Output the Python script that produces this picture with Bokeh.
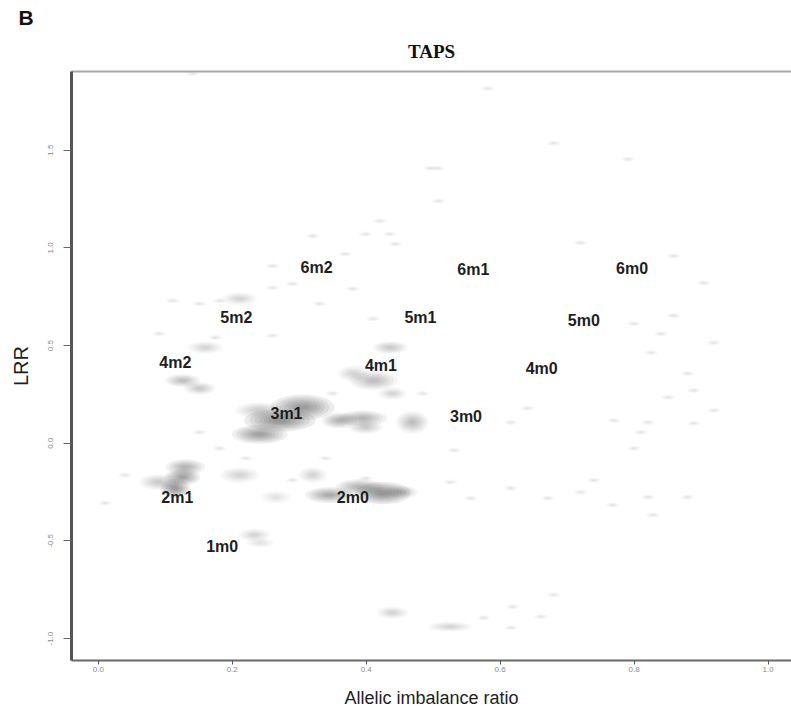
import numpy as np
from bokeh.plotting import figure
from bokeh.models import FixedTicker, LinearAxis, Range1d, Title
from bokeh.core.properties import value
from bokeh.embed import file_html
from bokeh.resources import INLINE

# ---- data ----
labels = ["6m2", "6m1", "6m0", "5m2", "5m1", "5m0", "4m2", "4m1", "4m0",
          "3m1", "3m0", "2m1", "2m0", "1m0"]
label_x = [0.326, 0.560, 0.797, 0.206, 0.481, 0.725, 0.115, 0.422, 0.662,
           0.281, 0.549, 0.118, 0.380, 0.185]
label_y = [0.898, 0.888, 0.893, 0.643, 0.643, 0.628, 0.413, 0.398, 0.383,
           0.153, 0.138, -0.276, -0.276, -0.531]

# density clusters: centre (ratio, LRR), spread (ratio, LRR), density
blob_x = [0.305, 0.271, 0.241, 0.241, 0.130, 0.126, 0.115, 0.091, 0.425, 0.345,
          0.390, 0.454, 0.436, 0.411, 0.381, 0.360, 0.395, 0.399, 0.469, 0.439,
          0.126, 0.151, 0.211, 0.160, 0.233, 0.242, 0.439, 0.525, 0.211, 0.320, 0.265]
blob_y = [0.184, 0.117, 0.046, 0.168, -0.122, -0.173, -0.230, -0.199, -0.255, -0.265,
          -0.224, -0.250, 0.490, 0.321, 0.357, 0.117, 0.128, 0.082, 0.107, 0.255,
          0.321, 0.281, 0.740, 0.490, -0.469, -0.510, -0.867, -0.939, -0.163, -0.163, -0.276]
blob_sx = [0.060, 0.067, 0.052, 0.045, 0.037, 0.033, 0.027, 0.037, 0.052, 0.045,
           0.045, 0.030, 0.033, 0.045, 0.030, 0.033, 0.045, 0.033, 0.030, 0.027,
           0.033, 0.030, 0.033, 0.033, 0.030, 0.027, 0.030, 0.042, 0.037, 0.027, 0.030]
blob_sy = [0.082, 0.071, 0.061, 0.051, 0.051, 0.051, 0.061, 0.051, 0.071, 0.051,
           0.051, 0.041, 0.041, 0.061, 0.051, 0.051, 0.051, 0.041, 0.071, 0.041,
           0.041, 0.041, 0.041, 0.041, 0.041, 0.031, 0.041, 0.031, 0.051, 0.051, 0.041]
blob_d = [0.45, 0.50, 0.40, 0.20, 0.30, 0.40, 0.45, 0.20, 0.50, 0.35,
          0.30, 0.20, 0.20, 0.25, 0.15, 0.30, 0.30, 0.20, 0.25, 0.15,
          0.25, 0.20, 0.15, 0.15, 0.15, 0.12, 0.15, 0.15, 0.15, 0.15, 0.12]

# sparse low-density points
speck_x = [0.141, 0.495, 0.420, 0.435, 0.399, 0.320, 0.369, 0.444, 0.260, 0.260,
           0.290, 0.330, 0.380, 0.410, 0.111, 0.151, 0.181, 0.091, 0.175, 0.260,
           0.581, 0.680, 0.791, 0.507, 0.720, 0.859, 0.904, 0.859, 0.800, 0.840,
           0.508, 0.880, 0.889, 0.851, 0.919, 0.821, 0.810, 0.800, 0.641, 0.616,
           0.531, 0.526, 0.556, 0.616, 0.671, 0.720, 0.740, 0.768, 0.821, 0.880,
           0.828, 0.680, 0.619, 0.661, 0.575, 0.616, 0.040, 0.010, 0.181, 0.151,
           0.220, 0.290, 0.399, 0.339, 0.350, 0.484, 0.770, 0.889, 0.919, 0.825]
speck_y = [1.893, 1.408, 1.138, 1.071, 1.071, 1.061, 0.969, 1.020, 0.908, 0.796,
           0.816, 0.714, 0.791, 0.638, 0.730, 0.714, 0.730, 0.561, 0.541, 0.551,
           1.816, 1.536, 1.454, 1.408, 1.026, 0.959, 0.821, 0.653, 0.612, 0.561,
           1.240, 0.357, 0.270, 0.235, 0.168, 0.107, 0.056, -0.026, 0.179, 0.107,
           -0.036, -0.199, -0.281, -0.230, -0.281, -0.250, -0.189, -0.316, -0.276, -0.276,
           -0.367, -0.776, -0.837, -0.888, -0.893, -0.944, -0.163, -0.306, -0.026, 0.056,
           -0.077, -0.189, -0.179, -0.077, 0.255, 0.255, 0.117, 0.102, 0.515, 0.464]

x_ticks = [0.0, 0.2, 0.4, 0.6, 0.8, 1.0]
x_tick_labels = ["0.0", "0.2", "0.4", "0.6", "0.8", "1.0"]
y_ticks = [-1.0, -0.5, 0.0, 0.5, 1.0, 1.5]
y_tick_labels = ["-1.0", "-0.5", "0.0", "0.5", "1.0", "1.5"]

# ---- figure ----
p = figure(width=791, height=717, output_backend="svg", toolbar_location=None,
           x_range=Range1d(-0.04, 1.035), y_range=Range1d(-1.112, 1.903),
           min_border_left=71, min_border_right=0, min_border_top=71,
           min_border_bottom=57)
p.outline_line_color = None
p.grid.visible = False
p.background_fill_color = "white"

bx = np.array(blob_x); by = np.array(blob_y)
sx = np.array(blob_sx); sy = np.array(blob_sy); d = np.array(blob_d)
for scale in [1.6, 1.35, 1.12, 0.92, 0.72, 0.52, 0.32]:
    p.ellipse(x=bx, y=by, width=sx * scale, height=sy * scale,
              fill_color="#404040", fill_alpha=d * 0.21, line_color=None)

spx = np.array(speck_x); spy = np.array(speck_y)
for w, h, a in [(0.02, 0.026, 0.04), (0.013, 0.017, 0.05), (0.007, 0.01, 0.05)]:
    p.ellipse(x=spx, y=spy, width=w, height=h,
              fill_color="#555555", fill_alpha=a, line_color=None)

p.text(x=label_x, y=label_y, text=labels, text_align="center",
       text_baseline="middle", text_font=value("Liberation Sans"),
       text_font_style="bold", text_font_size="16px", text_color="#1e1e1e")

# axes
p.xaxis.ticker = FixedTicker(ticks=x_ticks)
p.xaxis.major_label_overrides = dict(zip(x_ticks, x_tick_labels))
p.yaxis.ticker = FixedTicker(ticks=y_ticks)
p.yaxis.major_label_overrides = dict(zip(y_ticks, y_tick_labels))
for ax in (p.xaxis, p.yaxis):
    ax.minor_tick_line_color = None
    ax.major_tick_in = 0
    ax.major_label_text_font = "Liberation Sans"
    ax.major_label_text_font_size = "8px"
    ax.major_label_text_color = "#8a8a8a"
    ax.axis_label_text_font = "Liberation Sans"
    ax.axis_label_text_font_style = "normal"
    ax.axis_label_text_color = "#1e1e1e"
p.xaxis.axis_line_color = "#6a6a6a"
p.xaxis.axis_line_width = 2
p.xaxis.major_tick_line_color = "#555555"
p.xaxis.major_tick_out = 4
p.xaxis.major_label_standoff = 2
p.xaxis.axis_label = "Allelic imbalance ratio"
p.xaxis.axis_label_text_font_size = "18px"
p.xaxis.axis_label_standoff = 13

p.yaxis.axis_line_color = "#555555"
p.yaxis.axis_line_width = 3
p.yaxis.major_tick_line_color = "#666666"
p.yaxis.major_tick_out = 8
p.yaxis.major_label_orientation = "vertical"
p.yaxis.major_label_standoff = 10
p.yaxis.axis_label = "LRR"
p.yaxis.axis_label_text_font_size = "20px"
p.yaxis.axis_label_standoff = 14

top_axis = LinearAxis(ticker=FixedTicker(ticks=[]), axis_line_color="#a8a8a8",
                      axis_line_width=2, major_tick_line_color=None,
                      minor_tick_line_color=None, major_label_text_font_size="0px")
p.add_layout(top_axis, "above")

p.add_layout(Title(text="TAPS", align="center", text_font="Liberation Serif",
                   text_font_style="bold", text_font_size="19px",
                   text_color="#111111", standoff=20), "above")
p.add_layout(Title(text="B", align="left", text_font="Liberation Sans",
                   text_font_style="bold", text_font_size="21px",
                   text_color="#111111", offset=-53, standoff=0), "above")

open("out.html", "w").write(file_html(p, INLINE))
